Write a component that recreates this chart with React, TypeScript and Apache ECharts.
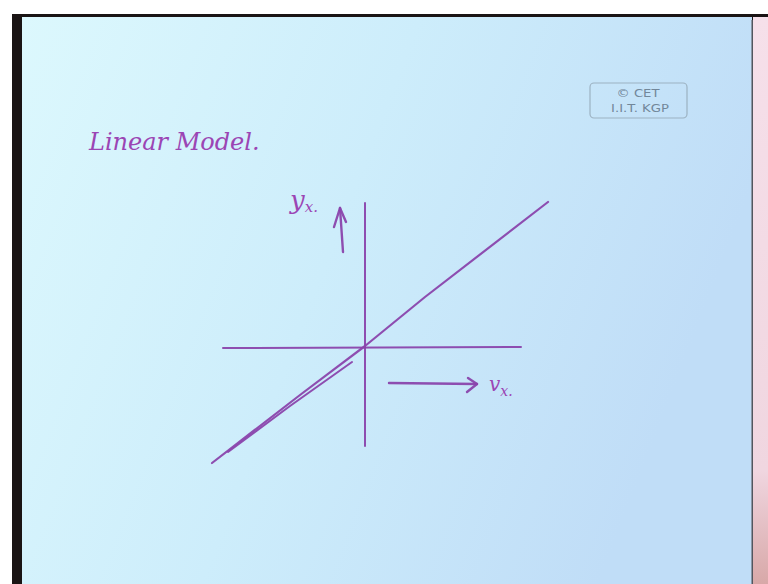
import React, { useEffect, useRef } from "react";
import * as echarts from "echarts";

// Hand-drawn sketch of a linear model: y_x against v_x.
// Coordinates are in sketch units (origin at the axes' crossing).
const diagonalMain: [number, number][] = [
  [-15.3, -11.6],
  [-6.5, -4.8],
  [0, 0.1],
  [6, 5],
  [18.3, 14.5],
];
const diagonalRetrace: [number, number][] = [
  [-13.7, -10.5],
  [-7.5, -5.9],
  [-1.3, -1.5],
];
const verticalAxis: [number, number][] = [
  [0, 14.4],
  [0, -9.9],
];
const horizontalAxis: [number, number][] = [
  [-14.2, -0.1],
  [15.6, 0],
];
const upArrowShaft: [number, number][] = [
  [-2.2, 9.5],
  [-2.5, 13.9],
];
const upArrowHead: [number, number][] = [
  [-3.1, 12.0],
  [-2.5, 13.9],
  [-1.9, 12.5],
];
const rightArrowShaft: [number, number][] = [
  [2.4, -3.6],
  [11.2, -3.7],
];
const rightArrowHead: [number, number][] = [
  [10.3, -3.1],
  [11.2, -3.7],
  [10.2, -4.5],
];

const INK = "#8a45ac";

export default function App() {
  const ref = useRef<HTMLDivElement>(null);

  useEffect(() => {
    if (!ref.current) return;
    const chart = echarts.init(ref.current, undefined, { renderer: "svg" });

    const stroke = (data: [number, number][], width = 2) => ({
      type: "line",
      data,
      symbol: "none",
      silent: true,
      lineStyle: { color: INK, width, cap: "round", join: "round", opacity: 0.95 },
      z: 10,
    });

    chart.setOption({
      animation: false,
      backgroundColor: "#ffffff",
      grid: { left: 5, right: 3, top: 7, bottom: 7 },
      xAxis: { type: "value", min: -36, max: 40, show: false },
      yAxis: { type: "value", min: -23, max: 34, show: false },
      graphic: [
        // paper and surroundings
        { type: "rect", z: -10, shape: { x: 12, y: 14, width: 756, height: 570 }, style: { fill: "#1a1414" } },
        {
          type: "rect",
          z: -9,
          shape: { x: 22, y: 17, width: 730, height: 567 },
          style: {
            fill: new echarts.graphic.LinearGradient(0, 0, 1, 0.3, [
              { offset: 0, color: "#dcf8fd" },
              { offset: 0.5, color: "#cdedfb" },
              { offset: 1, color: "#c0ddf7" },
            ]),
          },
        },
        { type: "rect", z: -9, shape: { x: 751, y: 20, width: 1.5, height: 564 }, style: { fill: "#8a98a8" } },
        {
          type: "rect",
          z: -9,
          shape: { x: 753, y: 17, width: 15, height: 567 },
          style: {
            fill: new echarts.graphic.LinearGradient(0, 0, 0, 1, [
              { offset: 0, color: "#f6e0ea" },
              { offset: 0.8, color: "#f0d6e0" },
              { offset: 1, color: "#d8a8a8" },
            ]),
          },
        },
        // logo
        {
          type: "rect",
          z: 5,
          shape: { x: 590, y: 83, width: 97, height: 35, r: 4 },
          style: { fill: "none", stroke: "#9cb2c2", lineWidth: 1.2 },
        },
        {
          type: "text",
          z: 6,
          x: 638,
          y: 93,
          scaleX: 1.2,
          style: { text: "© CET", fill: "#72879a", font: "11px 'DejaVu Sans', sans-serif", align: "center", verticalAlign: "middle" },
        },
        {
          type: "text",
          z: 6,
          x: 640,
          y: 108,
          scaleX: 1.2,
          style: { text: "I.I.T. KGP", fill: "#72879a", font: "11px 'DejaVu Sans', sans-serif", align: "center", verticalAlign: "middle" },
        },
        // handwritten labels
        {
          type: "text",
          z: 6,
          x: 89,
          y: 142,
          style: { text: "Linear Model.", fill: "#9b45b4", font: "italic 24px 'DejaVu Serif', serif", verticalAlign: "middle" },
        },
        {
          type: "text",
          z: 6,
          x: 290,
          y: 200,
          style: {
            text: "{m|y}{s|x.}",
            verticalAlign: "middle",
            rich: {
              m: { fill: "#9b45b4", font: "italic 26px 'DejaVu Serif', serif" },
              s: { fill: "#9b45b4", font: "italic 15px 'DejaVu Serif', serif", padding: [14, 0, 0, 0] },
            },
          },
        },
        {
          type: "text",
          z: 6,
          x: 489,
          y: 384,
          style: {
            text: "{m|v}{s|x.}",
            verticalAlign: "middle",
            rich: {
              m: { fill: "#9b45b4", font: "italic 20px 'DejaVu Serif', serif" },
              s: { fill: "#9b45b4", font: "italic 14px 'DejaVu Serif', serif", padding: [14, 0, 0, 0] },
            },
          },
        },
      ],
      series: [
        stroke(verticalAxis, 2),
        stroke(horizontalAxis, 2),
        stroke(diagonalMain, 2.2),
        stroke(diagonalRetrace, 2),
        stroke(upArrowShaft, 2.4),
        stroke(upArrowHead, 2.4),
        stroke(rightArrowShaft, 2.4),
        stroke(rightArrowHead, 2.4),
      ],
    });

    return () => chart.dispose();
  }, []);

  return <div ref={ref} style={{ width: 768, height: 584, position: "absolute", left: 0, top: 0 }} />;
}
